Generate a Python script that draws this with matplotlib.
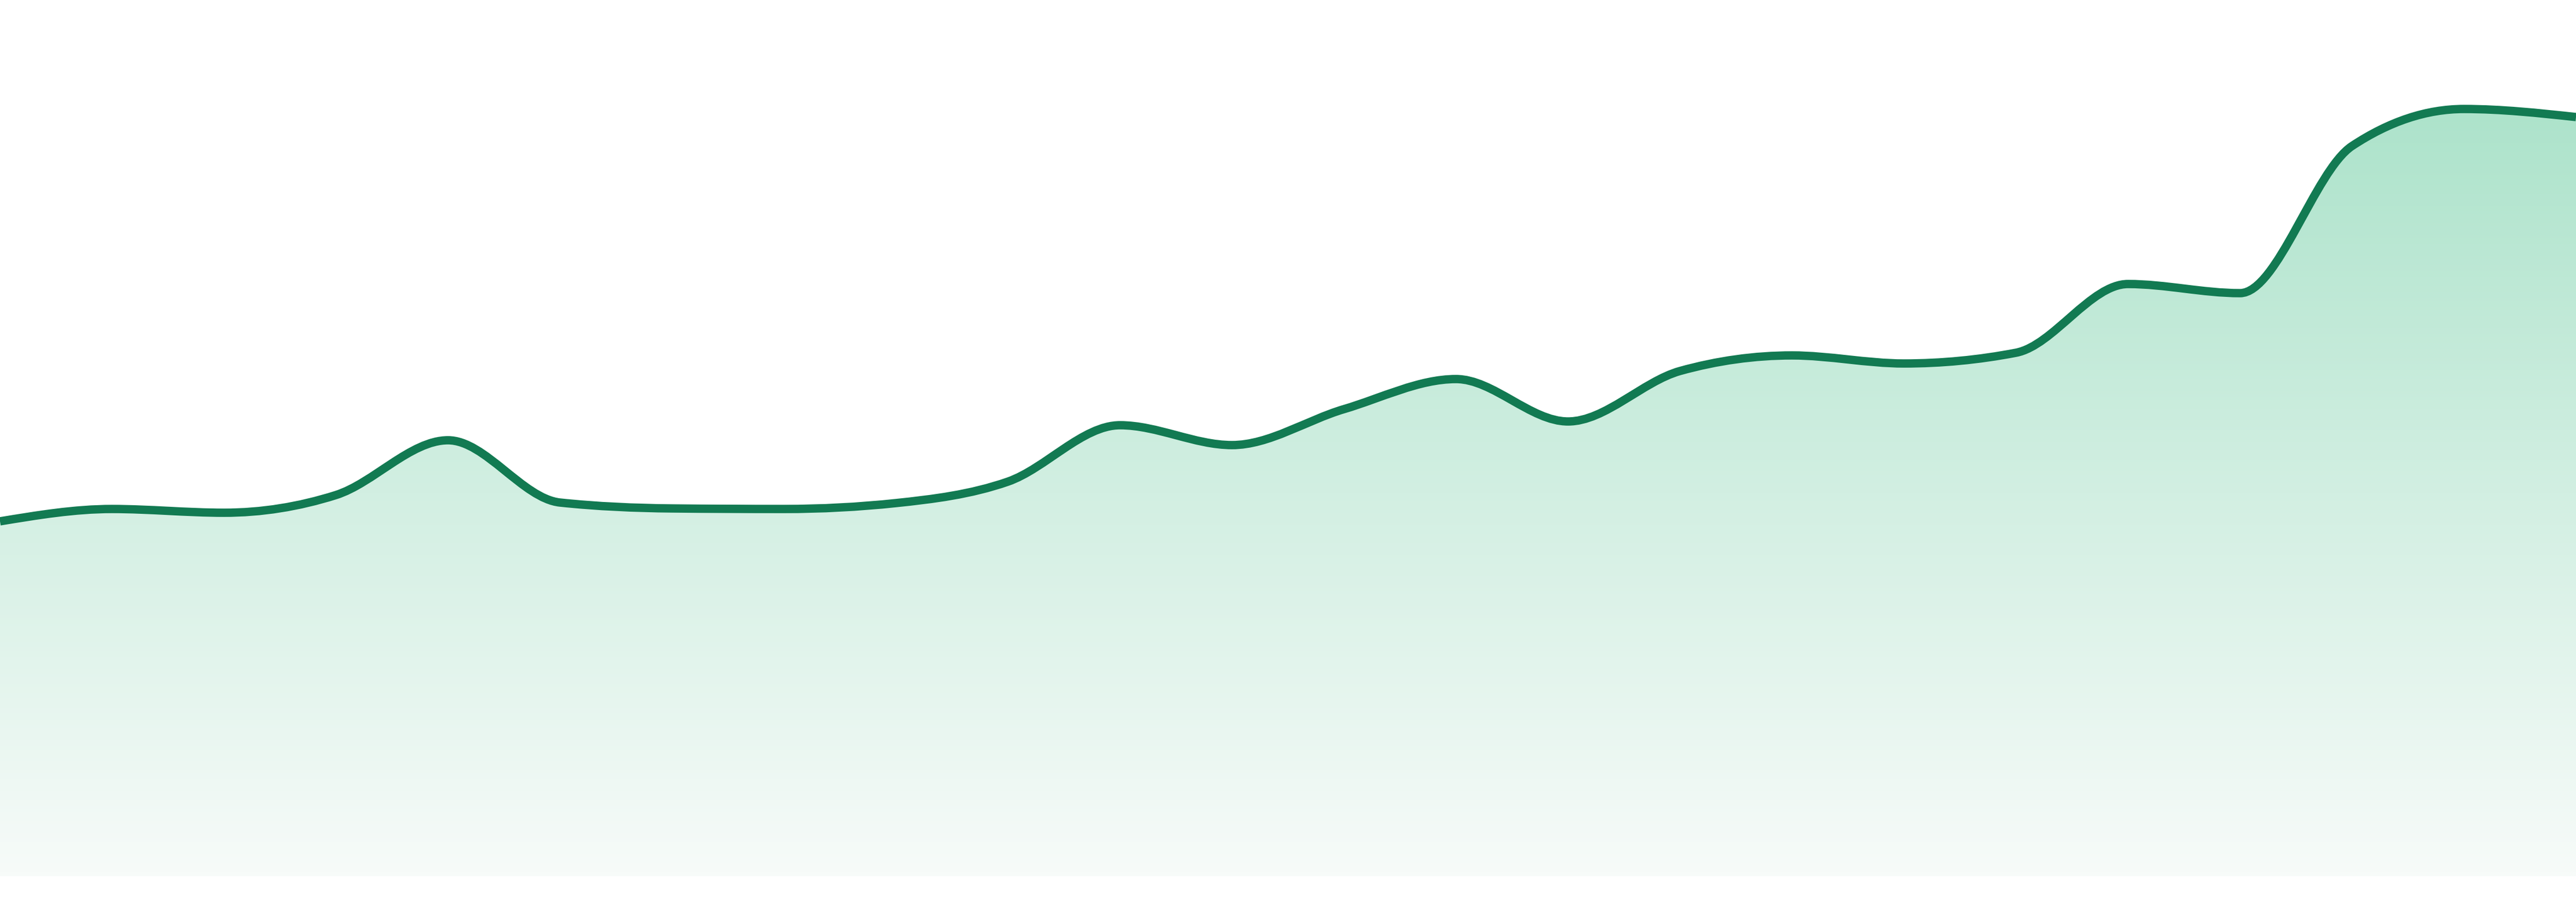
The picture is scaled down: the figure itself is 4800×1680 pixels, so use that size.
import numpy as np
import matplotlib
matplotlib.use("Agg")
import matplotlib.pyplot as plt
from matplotlib.path import Path
from matplotlib.patches import PathPatch
from matplotlib.colors import LinearSegmentedColormap

# values, evenly spaced samples
values = [66.1, 68.4, 67.7, 71.0, 81.2, 69.6, 68.5, 68.4, 69.5, 73.5, 84.0, 80.3,
          87.0, 92.6, 84.7, 94.1, 97.0, 95.5, 97.5, 110.3, 108.6, 136.0, 142.9, 141.4]

LINE_COLOR = "#127a52"
FILL_TOP = "#ade3cb"
FILL_BOTTOM = "#f7fbf9"


def _sign(v):
    return -1.0 if v < 0 else 1.0


def monotone_tangents(xs, ys):
    """Tangents as in d3.curveMonotoneX (Steffen)."""
    n = len(xs)
    t = [0.0] * n
    for i in range(1, n - 1):
        h0 = xs[i] - xs[i - 1]
        h1 = xs[i + 1] - xs[i]
        s0 = (ys[i] - ys[i - 1]) / h0
        s1 = (ys[i + 1] - ys[i]) / h1
        p = (s0 * h1 + s1 * h0) / (h0 + h1)
        t[i] = (_sign(s0) + _sign(s1)) * min(abs(s0), abs(s1), 0.5 * abs(p))
    h = xs[1] - xs[0]
    t[0] = (3 * (ys[1] - ys[0]) / h - t[1]) / 2
    h = xs[-1] - xs[-2]
    t[-1] = (3 * (ys[-1] - ys[-2]) / h - t[-2]) / 2
    return t


def monotone_path(xs, ys):
    t = monotone_tangents(xs, ys)
    verts = [(xs[0], ys[0])]
    codes = [Path.MOVETO]
    for i in range(len(xs) - 1):
        dx = (xs[i + 1] - xs[i]) / 3
        verts += [(xs[i] + dx, ys[i] + dx * t[i]),
                  (xs[i + 1] - dx, ys[i + 1] - dx * t[i + 1]),
                  (xs[i + 1], ys[i + 1])]
        codes += [Path.CURVE4] * 3
    return verts, codes


x = list(range(len(values)))
verts, codes = monotone_path(x, values)

fig = plt.figure(figsize=(48, 16.8), dpi=100)
ax = fig.add_axes([0, 48 / 1680, 1, 1632 / 1680])
ax.set_xlim(0, len(values) - 1)
ax.set_ylim(0, 163.2)
ax.axis("off")

# area under the curve, filled with a vertical gradient
area_verts = verts + [(x[-1], 0), (x[0], 0), (x[0], values[0])]
area_codes = codes + [Path.LINETO, Path.LINETO, Path.CLOSEPOLY]
area = PathPatch(Path(area_verts, area_codes), facecolor="none", edgecolor="none")
ax.add_patch(area)

cmap = LinearSegmentedColormap.from_list("fade", [FILL_BOTTOM, FILL_TOP])
grad = np.linspace(0, 1, 256).reshape(-1, 1)
img = ax.imshow(grad, cmap=cmap, origin="lower", aspect="auto",
                extent=[x[0], x[-1], 0, max(values)], interpolation="bicubic")
img.set_clip_path(area)

line = PathPatch(Path(verts, codes), facecolor="none", edgecolor=LINE_COLOR,
                 linewidth=11.2, capstyle="butt", joinstyle="round")
ax.add_patch(line)

fig.savefig("out.png", dpi=100)
